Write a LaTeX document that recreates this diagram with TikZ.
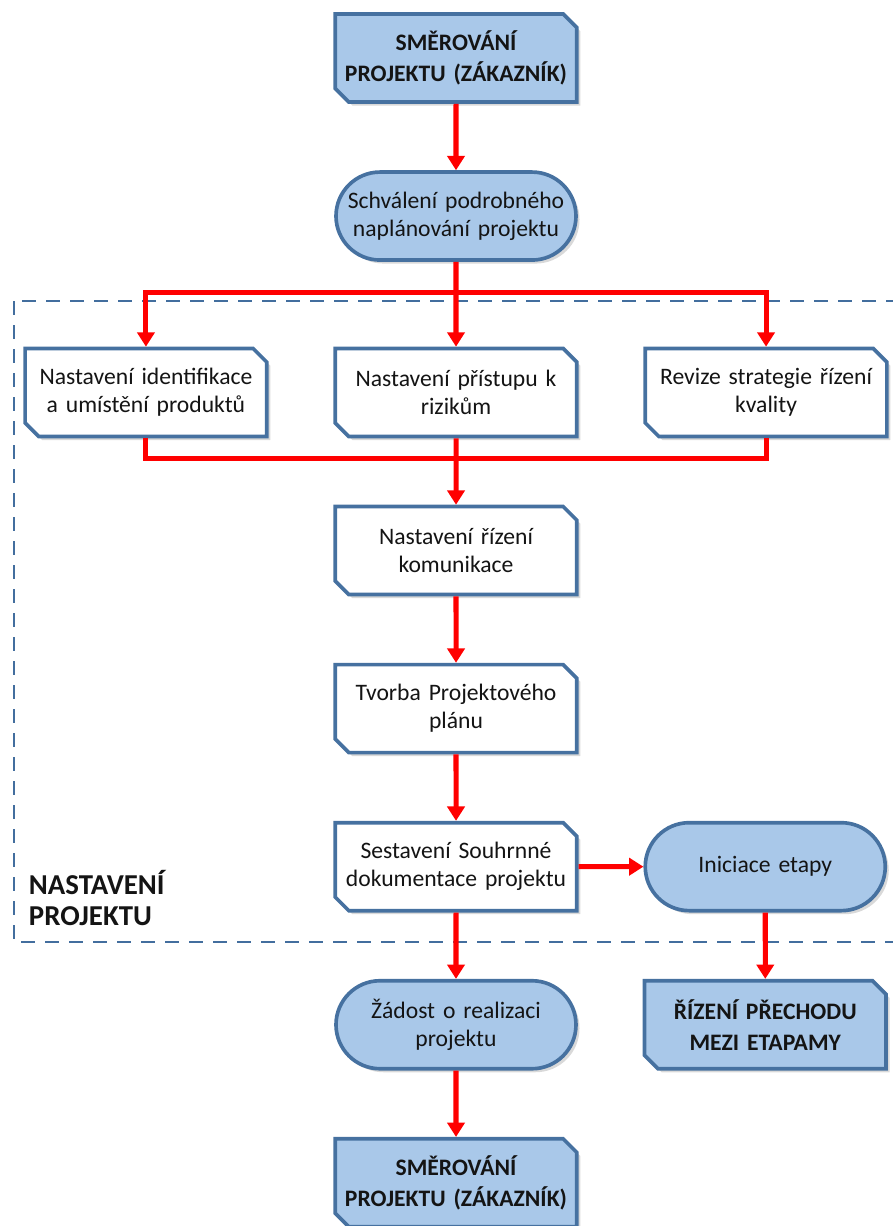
\documentclass[tikz,border=0pt]{standalone}
\usepackage{fontspec}
\setmainfont{Carlito}
\usetikzlibrary{shapes.misc,arrows.meta,positioning,shadows,calc}
\definecolor{boxblue}{RGB}{169,200,233}
\definecolor{edgeblue}{RGB}{70,113,160}
\definecolor{frameblue}{RGB}{67,110,158}
\definecolor{flowred}{RGB}{255,0,0}
\definecolor{textblack}{RGB}{20,20,20}
\tikzset{
    % Chamfered boxes (cut corners top right and bottom left)
    stagebox/.style={
        chamfered rectangle, chamfered rectangle corners={north east,south west},
        chamfered rectangle xsep=0.17cm, chamfered rectangle ysep=0.17cm,
        draw=edgeblue, line width=2.6pt, fill=boxblue,
        minimum width=6.0cm, minimum height=2.2cm, text width=5.7cm,
        align=center, text=textblack, inner sep=0pt,
        font=\bfseries\fontsize{16.8}{22}\selectfont,
        drop shadow={shadow xshift=2.5pt, shadow yshift=-2.5pt, opacity=0.3}
    },
    processbox/.style={
        stagebox, fill=white, font=\fontsize{16.8}{20}\selectfont
    },
    eventbox/.style={
        rectangle, rounded corners=1.1cm,
        draw=edgeblue, line width=2.6pt, fill=boxblue,
        minimum width=6.0cm, minimum height=2.2cm, text width=5.7cm,
        align=center, text=textblack, inner sep=0pt,
        font=\fontsize{16.8}{20}\selectfont,
        drop shadow={shadow xshift=2.5pt, shadow yshift=-2.5pt, opacity=0.3}
    },
    flow/.style={
        -{Triangle[width=0.43cm,length=0.36cm]}, line width=3.6pt, draw=flowred
    },
    flowline/.style={
        line width=3.6pt, draw=flowred
    },
    groupframe/.style={
        draw=frameblue, line width=2pt, dash pattern=on 0.35cm off 0.25cm
    },
    grouplabel/.style={
        font=\bfseries\fontsize{20.5}{22}\selectfont, align=left, text=textblack
    }
}
\begin{document}
\begin{tikzpicture}[node distance=1.66cm and 1.62cm]
\useasboundingbox (0,0) rectangle (22.325,-30.65);

% Main column
\node[stagebox] (smerovani_in) at (11.4,-1.45) {SMĚROVÁNÍ\\PROJEKTU (ZÁKAZNÍK)};
\node[eventbox, below=of smerovani_in] (schvaleni) {Schválení podrobného\\naplánování projektu};

% Parallel setup steps
\node[processbox, below=2.12cm of schvaleni] (rizika) {Nastavení přístupu k\\rizikům};
\node[processbox, left=of rizika] (identifikace) {Nastavení identifikace\\a umístění produktů};
\node[processbox, right=of rizika] (kvalita) {Revize strategie řízení\\kvality};

\node[processbox, below=of rizika] (komunikace) {Nastavení řízení\\komunikace};
\node[processbox, below=of komunikace] (plan) {Tvorba Projektového\\plánu};
\node[processbox, below=of plan] (dokumentace) {Sestavení Souhrnné\\dokumentace projektu};
\node[eventbox, right=of dokumentace] (iniciace) {Iniciace etapy};
\node[eventbox, below=of dokumentace] (zadost) {Žádost o realizaci\\projektu};
\node[stagebox, below=of iniciace] (prechod) {ŘÍZENÍ PŘECHODU\\MEZI ETAPAMY};
\node[stagebox, below=of zadost] (smerovani_out) {SMĚROVÁNÍ\\PROJEKTU (ZÁKAZNÍK)};

% Setup stage frame
\draw[groupframe] (0.35,-7.525) rectangle (22.7,-23.55);
\node[grouplabel, anchor=west] (nastaveni) at (0.6,-22.45) {NASTAVENÍ\\PROJEKTU};

% Split and merge points
\coordinate (split) at ($(schvaleni.south)!0.36!(rizika.north)$);
\coordinate (merge) at ($(rizika.south)!0.3!(komunikace.north)$);

% Flow arrows
\draw[flow] (smerovani_in) -- (schvaleni);
\draw[flow] (schvaleni) -- (rizika);
\draw[flow] (split) -| (identifikace.north);
\draw[flow] (split) -| (kvalita.north);
\draw[flowline] (identifikace.south) |- (merge) -| (kvalita.south);
\draw[flow] (rizika) -- (komunikace);
\draw[flow] (komunikace) -- (plan);
\draw[flow] (plan) -- (dokumentace);
\draw[flow] (dokumentace) -- (iniciace);
\draw[flow] (dokumentace) -- (zadost);
\draw[flow] (iniciace) -- (prechod);
\draw[flow] (zadost) -- (smerovani_out);

\end{tikzpicture}
\end{document}
